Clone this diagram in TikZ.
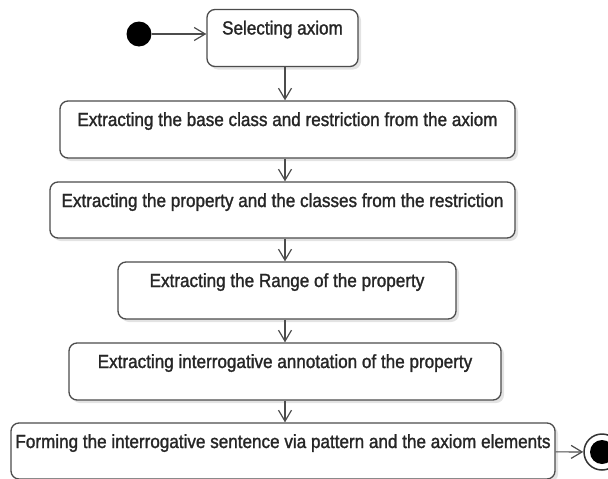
\documentclass[tikz,border=0pt]{standalone}
\usepackage{fontspec}
\setmainfont[FakeStretch=0.9,FakeBold=1.4]{Liberation Sans}
\usetikzlibrary{arrows.meta,shadows}

\tikzset{
  activity/.style={draw=black!70, line width=1.3pt, rounded corners=8pt, fill=white,
    drop shadow={shadow xshift=3pt, shadow yshift=-3pt, opacity=0.22},
    inner xsep=0pt, inner ysep=0pt, text height=25pt, text depth=32pt,
    font=\fontsize{19}{22}\selectfont, text=black!85},
  initial dot/.style={circle, fill=black, minimum size=25pt, inner sep=0pt},
  final dot/.style={circle, draw=black!80, line width=1.5pt, fill=white,
    minimum size=36pt, inner sep=0pt,
    path picture={\fill[black] (path picture bounding box.center) circle (12pt);}}
}

\begin{document}
\begin{tikzpicture}[x=1pt, y=-1pt, >={Straight Barb[length=11pt,width=13pt]},
    every edge/.style={draw=black!70, line width=1.2pt}]

  \useasboundingbox (0,0) rectangle (608,479);

  \node[initial dot] (0) at (139,34) {};
  \node[activity, minimum width=151pt] (1) at (282.5,38) {Selecting axiom};
  \node[activity, minimum width=455pt] (2) at (287.5,129.5) {Extracting the base class and restriction from the axiom};
  \node[activity, minimum width=465pt, text depth=31pt] (3) at (282.5,210) {Extracting the property and the classes from the restriction};
  \node[activity, minimum width=338pt] (4) at (287,290.5) {Extracting the Range of the property};
  \node[activity, minimum width=432pt] (5) at (285,371.5) {Extracting interrogative annotation of the property};
  \node[activity, minimum width=544pt, text depth=31pt] (6) at (283,451) {Forming the interrogative sentence via pattern and the axiom elements};
  \node[final dot] (7) at (602,452) {};

  \coordinate (spine) at (285,0);

  \path[->]
  (0) edge (0 -| 1.west)

  (1.south -| spine) edge (2.north -| spine)
  (2.south -| spine) edge (3.north -| spine)
  (3.south -| spine) edge (4.north -| spine)
  (4.south -| spine) edge (5.north -| spine)
  (5.south -| spine) edge (6.north -| spine)

  (6) edge (7)
  ;
\end{tikzpicture}
\end{document}
